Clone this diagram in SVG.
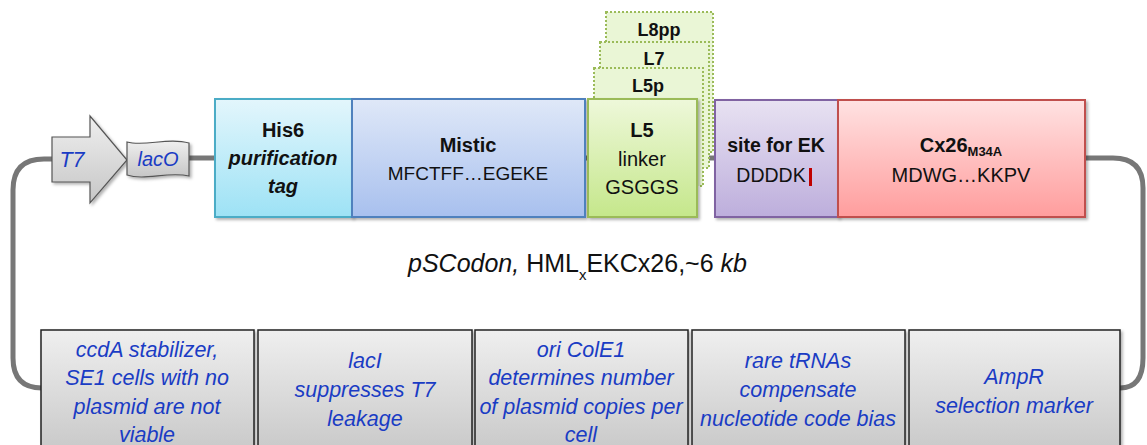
<svg xmlns="http://www.w3.org/2000/svg" width="1147" height="445" viewBox="0 0 1147 445">
<style>
.t{font-family:"Liberation Sans",Arial,sans-serif;fill:#111;text-anchor:middle}
.b{font-weight:bold}
.i{font-style:italic}
.blue{font-family:"Liberation Sans",Arial,sans-serif;font-style:italic;fill:#1a3cc4;text-anchor:middle;font-size:21.5px}
.conn{fill:none;stroke:#777;stroke-width:5}
.bot{fill:url(#gGray);stroke:#222;stroke-width:1.5}
.stack{fill:#eaf6d6;stroke:#9bbb59;stroke-width:2;stroke-dasharray:2 2}
</style>
<defs>
<linearGradient id="gGray" x1="0" y1="0" x2="0" y2="1"><stop offset="0" stop-color="#efefef"/><stop offset="1" stop-color="#c6c6c6"/></linearGradient>
<linearGradient id="gCyan" x1="0" y1="0" x2="0" y2="1"><stop offset="0" stop-color="#e3f6fc"/><stop offset="1" stop-color="#9de2f5"/></linearGradient>
<linearGradient id="gBlue" x1="0" y1="0" x2="0" y2="1"><stop offset="0" stop-color="#dfe8f8"/><stop offset="1" stop-color="#a8c0ee"/></linearGradient>
<linearGradient id="gGreen" x1="0" y1="0" x2="0" y2="1"><stop offset="0" stop-color="#eef8da"/><stop offset="1" stop-color="#c5e78b"/></linearGradient>
<linearGradient id="gPurple" x1="0" y1="0" x2="0" y2="1"><stop offset="0" stop-color="#e8e2f2"/><stop offset="1" stop-color="#bdaedc"/></linearGradient>
<linearGradient id="gRed" x1="0" y1="0" x2="0" y2="1"><stop offset="0" stop-color="#ffe2e2"/><stop offset="1" stop-color="#ff9d9d"/></linearGradient>
<filter id="sh" x="-10%" y="-10%" width="130%" height="130%"><feDropShadow dx="2" dy="2" stdDeviation="1.5" flood-color="#000" flood-opacity="0.3"/></filter>
</defs>

<g id="connectors">
<path class="conn" d="M52,159 H44 Q13,159 13,190 V358 Q13,388 42,388"/>
<path class="conn" d="M1085,158 H1113 Q1143,158 1143,188 V358 Q1143,388 1120,388"/>
<path class="conn" d="M189,158 H216"/>
<path class="conn" d="M584,158 H590"/>
<path class="conn" d="M696,158 H716"/>
</g>

<g id="T7">
<polygon points="52,137 90,137 90,116 127,160 90,203 90,182 52,182" fill="url(#gGray)" stroke="#555" stroke-width="1.2" filter="url(#sh)"/>
<text class="blue" x="72" y="167" font-size="20">T7</text>
</g>
<g id="lacO">
<path d="M127,142 C145,147 168,137 189,143 L189,176 C168,171 145,181 127,175 Z" fill="url(#gGray)" stroke="#555" stroke-width="1.2" filter="url(#sh)"/>
<text class="blue" x="158" y="166" style="font-size:20px">lacO</text>
</g>

<g id="L8pp">
<rect class="stack" x="606" y="12" width="107" height="140"/>
<text class="t b" x="659" y="36" font-size="18">L8pp</text>
</g>
<g id="L7">
<rect class="stack" x="600" y="42" width="109" height="126"/>
<text class="t b" x="654" y="65" font-size="18">L7</text>
</g>
<g id="L5p">
<rect class="stack" x="594" y="68" width="109" height="118"/>
<text class="t b" x="648" y="92" font-size="18">L5p</text>
</g>

<g id="His6">
<rect x="215" y="99" width="137" height="118" fill="url(#gCyan)" stroke="#4bacc6" stroke-width="2" filter="url(#sh)"/>
<text class="t b" x="283" y="137" font-size="20">His6</text>
<text class="t b i" x="283" y="165" font-size="20">purification</text>
<text class="t b i" x="283" y="193" font-size="20">tag</text>
</g>
<g id="Mistic">
<rect x="352" y="99" width="233" height="118" fill="url(#gBlue)" stroke="#4f81bd" stroke-width="2" filter="url(#sh)"/>
<text class="t b" x="468" y="152" font-size="20">Mistic</text>
<text class="t" x="468" y="180" font-size="19">MFCTFF…EGEKE</text>
</g>
<g id="L5">
<rect x="588" y="99" width="109" height="118" fill="url(#gGreen)" stroke="#9bbb59" stroke-width="2" filter="url(#sh)"/>
<text class="t b" x="642" y="137" font-size="20">L5</text>
<text class="t" x="642" y="166" font-size="20">linker</text>
<text class="t" x="642" y="194" font-size="20">GSGGS</text>
</g>
<g id="siteEK">
<rect x="715" y="100" width="123" height="117" fill="url(#gPurple)" stroke="#8064a2" stroke-width="2" filter="url(#sh)"/>
<text class="t b" x="776" y="152" font-size="19.5">site for EK</text>
<text class="t" x="771" y="182" font-size="19.5">DDDDK</text>
<rect x="809" y="168" width="3" height="18" fill="#c00000"/>
</g>
<g id="Cx26">
<rect x="838" y="100" width="247" height="117" fill="url(#gRed)" stroke="#c0504d" stroke-width="2" filter="url(#sh)"/>
<text class="t b" x="961" y="152" font-size="20">Cx26<tspan font-size="13" dy="4">M34A</tspan></text>
<text class="t" x="961" y="182" font-size="20">MDWG…KKPV</text>
</g>

<g id="title">
<text x="408" y="272" font-family="'Liberation Sans',Arial,sans-serif" font-size="25" fill="#111"><tspan font-style="italic">pSCodon,</tspan> HML<tspan font-size="15" dy="8">x</tspan><tspan dy="-8">EKCx26,~6 </tspan><tspan font-style="italic">kb</tspan></text>
</g>

<g id="ccdA">
<rect class="bot" x="41" y="330" width="213" height="130" filter="url(#sh)"/>
<text class="blue" x="147" y="357">ccdA stabilizer,</text>
<text class="blue" x="147" y="385">SE1 cells with no</text>
<text class="blue" x="147" y="414">plasmid are not</text>
<text class="blue" x="147" y="442">viable</text>
</g>
<g id="lacI">
<rect class="bot" x="258" y="330" width="214" height="130" filter="url(#sh)"/>
<text class="blue" x="365" y="368">lacI</text>
<text class="blue" x="365" y="397">suppresses T7</text>
<text class="blue" x="365" y="426">leakage</text>
</g>
<g id="ori">
<rect class="bot" x="475" y="330" width="213" height="130" filter="url(#sh)"/>
<text class="blue" x="581" y="357">ori ColE1</text>
<text class="blue" x="581" y="385">determines number</text>
<text class="blue" x="581" y="414">of plasmid copies per</text>
<text class="blue" x="581" y="442">cell</text>
</g>
<g id="tRNA">
<rect class="bot" x="692" y="330" width="213" height="130" filter="url(#sh)"/>
<text class="blue" x="798" y="368">rare tRNAs</text>
<text class="blue" x="798" y="397">compensate</text>
<text class="blue" x="798" y="426">nucleotide code bias</text>
</g>
<g id="AmpR">
<rect class="bot" x="909" y="330" width="211" height="130" filter="url(#sh)"/>
<text class="blue" x="1014" y="384">AmpR</text>
<text class="blue" x="1014" y="413">selection marker</text>
</g>
</svg>
